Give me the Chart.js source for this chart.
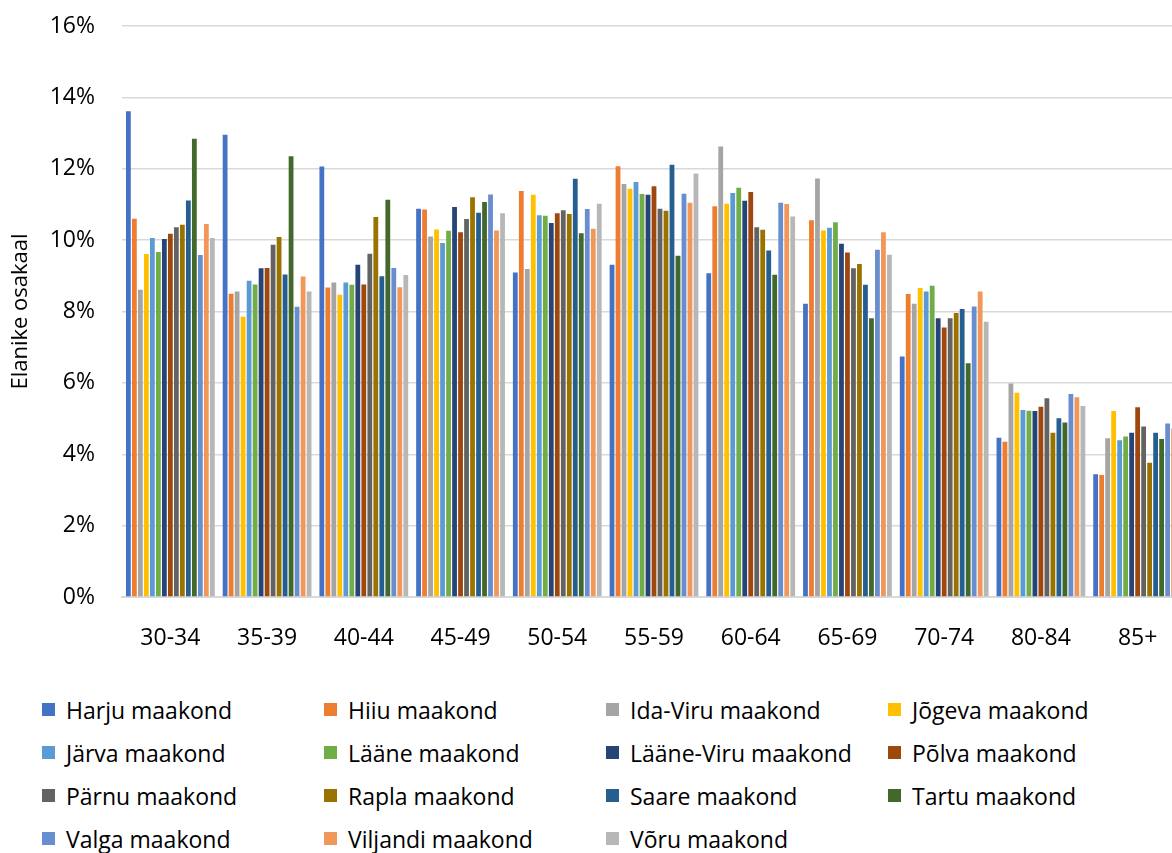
<!DOCTYPE html>
<html>
<head>
<meta charset="utf-8">
<script src="https://cdn.jsdelivr.net/npm/chart.js@4"></script>
<style>
  html, body { margin: 0; padding: 0; background: #fff; overflow: hidden; width: 1172px; height: 853px; }
  #chartBox { position: absolute; left: 0; top: 0; width: 1186px; height: 670px; }
  #legend {
    position: absolute; left: 42px; top: 688px;
    display: grid; grid-template-columns: repeat(4, 282px); grid-auto-rows: 43px;
    font-family: "Open Sans", sans-serif; font-size: 23px; color: #000;
  }
  #legend .item { display: flex; align-items: center; white-space: nowrap; }
  #legend .box { width: 13px; height: 13px; margin-right: 11px; flex: none; }
</style>
</head>
<body>
<div id="chartBox"><canvas id="ageChart" width="1186" height="670"></canvas></div>
<div id="legend"></div>
<script>
// vanuserühmad
const categories = ["30-34", "35-39", "40-44", "45-49", "50-54", "55-59", "60-64", "65-69", "70-74", "80-84", "85+"];

// osakaal protsentides, maakondade kaupa
const harju     = [13.61, 12.95, 12.06, 10.88, 9.09, 9.31, 9.07, 8.22, 6.74, 4.46, 3.44];
const hiiu      = [10.60, 8.50, 8.67, 10.86, 11.38, 12.07, 10.95, 10.56, 8.49, 4.35, 3.42];
const idaViru   = [8.61, 8.56, 8.81, 10.10, 9.19, 11.57, 12.62, 11.73, 8.22, 5.98, 4.45];
const jogeva    = [9.61, 7.85, 8.47, 10.30, 11.27, 11.44, 11.02, 10.27, 8.66, 5.72, 5.21];
const jarva     = [10.06, 8.86, 8.81, 9.92, 10.70, 11.63, 11.32, 10.35, 8.56, 5.24, 4.39];
const laane     = [9.67, 8.76, 8.75, 10.26, 10.68, 11.29, 11.47, 10.50, 8.72, 5.22, 4.50];
const laaneViru = [10.03, 9.21, 9.31, 10.93, 10.48, 11.27, 11.10, 9.90, 7.81, 5.21, 4.60];
const polva     = [10.18, 9.22, 8.76, 10.22, 10.75, 11.51, 11.35, 9.65, 7.55, 5.33, 5.32];
const parnu     = [10.36, 9.87, 9.62, 10.59, 10.84, 10.88, 10.36, 9.21, 7.81, 5.57, 4.78];
const rapla     = [10.43, 10.09, 10.65, 11.20, 10.73, 10.82, 10.29, 9.33, 7.96, 4.60, 3.76];
const saare     = [11.11, 9.04, 8.99, 10.77, 11.72, 12.11, 9.71, 8.75, 8.07, 5.01, 4.60];
const tartu     = [12.84, 12.35, 11.13, 11.07, 10.19, 9.56, 9.03, 7.81, 6.55, 4.89, 4.43];
const valga     = [9.58, 8.13, 9.22, 11.28, 10.87, 11.30, 11.05, 9.73, 8.14, 5.69, 4.86];
const viljandi  = [10.45, 8.98, 8.68, 10.27, 10.32, 11.05, 11.01, 10.22, 8.56, 5.60, 4.72];
const voru      = [10.06, 8.56, 9.02, 10.75, 11.02, 11.87, 10.66, 9.59, 7.71, 5.35, 4.60];

const seriesNames = [
  "Harju maakond", "Hiiu maakond", "Ida-Viru maakond", "Jõgeva maakond",
  "Järva maakond", "Lääne maakond", "Lääne-Viru maakond", "Põlva maakond",
  "Pärnu maakond", "Rapla maakond", "Saare maakond", "Tartu maakond",
  "Valga maakond", "Viljandi maakond", "Võru maakond"
];
const seriesValues = [harju, hiiu, idaViru, jogeva, jarva, laane, laaneViru, polva,
  parnu, rapla, saare, tartu, valga, viljandi, voru];
const seriesColors = [
  "#4472C4", "#ED7D31", "#A5A5A5", "#FFC000", "#5B9BD5", "#70AD47", "#264478", "#9E480E",
  "#636363", "#997300", "#255E91", "#43682B", "#698ED0", "#F1975A", "#B7B7B7"
];
const yTicks = [0, 2, 4, 6, 8, 10, 12, 14, 16];

const FONT = "'Open Sans', sans-serif";

const ctx = document.getElementById("ageChart").getContext("2d");
const chart = new Chart(ctx, {
  type: "bar",
  data: {
    labels: categories,
    datasets: seriesNames.map((name, i) => ({
      label: name,
      data: seriesValues[i],
      backgroundColor: seriesColors[i],
      borderWidth: 0,
      barPercentage: 0.8,
      categoryPercentage: 0.93,
    })),
  },
  options: {
    responsive: false,
    animation: false,
    layout: { padding: { top: 26, left: 0, right: 0, bottom: 0 } },
    plugins: { legend: { display: false }, tooltip: { enabled: false } },
    scales: {
      x: {
        grid: { display: false, drawTicks: false },
        border: { color: "#d9d9d9", width: 2 },
        ticks: { color: "#000", font: { family: FONT, size: 23 }, padding: 28, maxRotation: 0 },
        afterFit: (scale) => { scale.height = 73; },
      },
      y: {
        min: 0,
        max: 16,
        afterBuildTicks: (scale) => { scale.ticks = yTicks.map((v) => ({ value: v })); },
        grid: { color: "#d9d9d9", lineWidth: 1.5, drawTicks: false },
        border: { display: false },
        ticks: {
          color: "#000",
          font: { family: FONT, size: 23 },
          padding: 27,
          callback: (v) => v + "%",
        },
        title: {
          display: true,
          text: "Elanike osakaal",
          color: "#000",
          font: { family: FONT, size: 22 },
          padding: { top: 8, bottom: 0 },
        },
        afterFit: (scale) => {
          scale.width = 122;
          scale.paddingTop = 0;
          scale.paddingBottom = 0;
        },
      },
    },
  },
});

// legend nelja veeruna
const legendEl = document.getElementById("legend");
chart.data.datasets.forEach((ds) => {
  const item = document.createElement("div");
  item.className = "item";
  const box = document.createElement("span");
  box.className = "box";
  box.style.background = ds.backgroundColor;
  const txt = document.createElement("span");
  txt.textContent = ds.label;
  item.appendChild(box);
  item.appendChild(txt);
  legendEl.appendChild(item);
});
</script>
</body>
</html>
